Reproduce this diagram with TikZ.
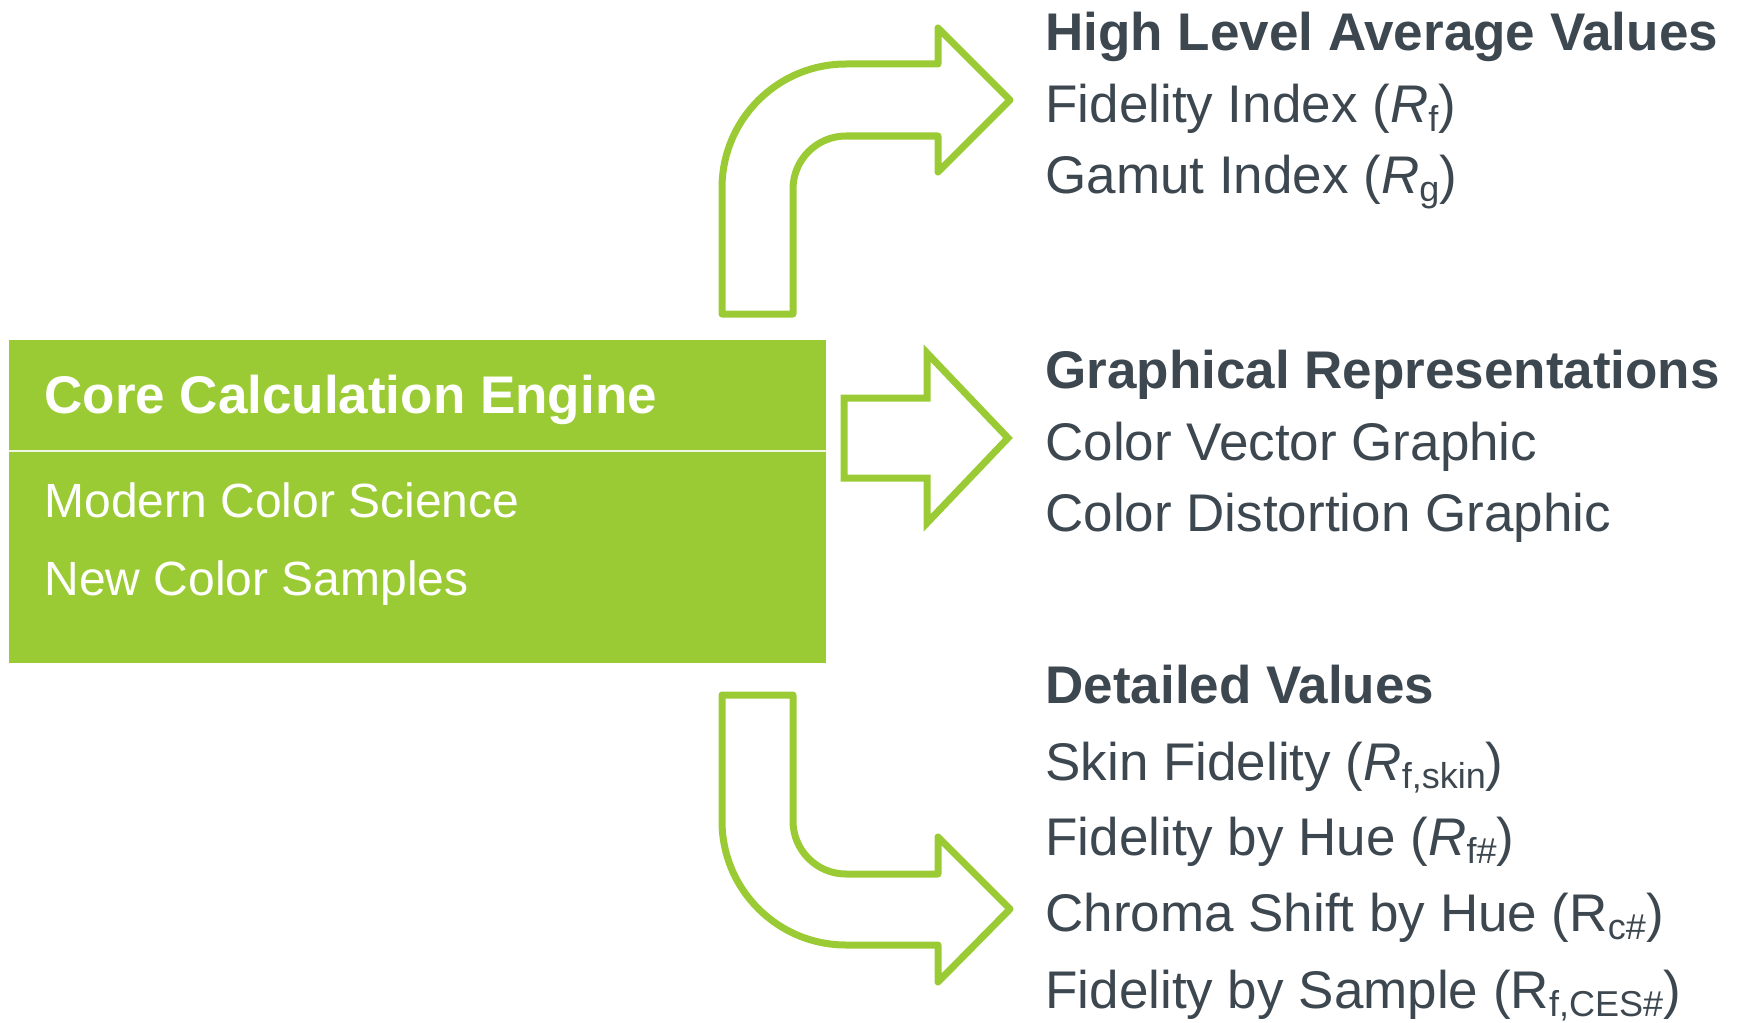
\documentclass[tikz,border=0pt]{standalone}
\usepackage{fontspec}
\setmainfont{Liberation Sans}
\usetikzlibrary{positioning}

\definecolor{cesgreen}{HTML}{9BCB34}
\definecolor{slate}{HTML}{3D4750}

% lowered subscript for the index names
\newcommand{\subs}[1]{\raisebox{-0.16em}{\fontsize{18}{18}\selectfont #1}}

\tikzset{
  outtext/.style={anchor=base west, inner sep=0pt, text=slate,
    font=\fontsize{26.5}{30}\selectfont},
  outhead/.style={outtext, font=\fontsize{26.5}{30}\selectfont\bfseries},
  boxtext/.style={anchor=base west, inner sep=0pt, text=white,
    font=\fontsize{24}{28}\selectfont},
  bentarrow/.style={draw=cesgreen, line width=3.5pt, line join=round},
  fatarrow/.style={draw=cesgreen, line width=3.5pt, line join=miter},
}

\begin{document}
\begin{tikzpicture}[x=0.5pt, y=-0.5pt]
  \useasboundingbox (0,0) rectangle (1739,1022);

  % the engine box
  \node[fill=cesgreen, inner sep=0pt, minimum width=408.5pt,
    minimum height=161.5pt] (engine) at (417.5,501.5) {};
  \draw[white!85!cesgreen, line width=1pt]
    (engine.west |- 0,451) -- (engine.east |- 0,451);
  \node[boxtext, font=\fontsize{26.5}{30}\selectfont\bfseries]
    (core) at (44,413) {Core Calculation Engine};
  \node[boxtext] (science) at (44,517) {Modern Color Science};
  \node[boxtext] (samples) at (44,595) {New Color Samples};

  % arrow bending up
  \draw[bentarrow] (722,314) -- (722,188)
    arc[start angle=180, end angle=270, radius=124] -- (938,64)
    -- (938,28) -- (1010,100) -- (938,172) -- (938,136) -- (846,136)
    arc[start angle=270, end angle=180, radius=53] -- (793,314) -- cycle;

  % straight arrow
  \draw[fatarrow] (844,398) -- (927,398) -- (927,353) -- (1008,438)
    -- (927,523) -- (927,478) -- (844,478) -- cycle;

  % arrow bending down
  \draw[bentarrow] (722,695) -- (722,821)
    arc[start angle=180, end angle=90, radius=124] -- (938,945)
    -- (938,982) -- (1010,909) -- (938,837) -- (938,874) -- (846,874)
    arc[start angle=90, end angle=180, radius=53] -- (793,695) -- cycle;

  % outputs
  \node[outhead] (avg) at (1045,51) {High Level Average Values};
  \node[outtext] (rf) at (1045,123) {Fidelity Index (\textit{R}\subs{f})};
  \node[outtext] (rg) at (1045,193) {Gamut Index (\textit{R}\subs{g})};

  \node[outhead] (graph) at (1045,388) {Graphical Representations};
  \node[outtext] (cvg) at (1045,460) {Color Vector Graphic};
  \node[outtext] (cdg) at (1045,531) {Color Distortion Graphic};

  \node[outhead] (detail) at (1045,703) {Detailed Values};
  \node[outtext] (rfskin) at (1045,780) {Skin Fidelity (\textit{R}\subs{f,skin})};
  \node[outtext] (rfhue) at (1045,855) {Fidelity by Hue (\textit{R}\subs{f\#})};
  \node[outtext] (rchue) at (1045,931) {Chroma Shift by Hue (R\subs{c\#})};
  \node[outtext] (rfces) at (1045,1008) {Fidelity by Sample (R\subs{f,CES\#})};
\end{tikzpicture}
\end{document}
